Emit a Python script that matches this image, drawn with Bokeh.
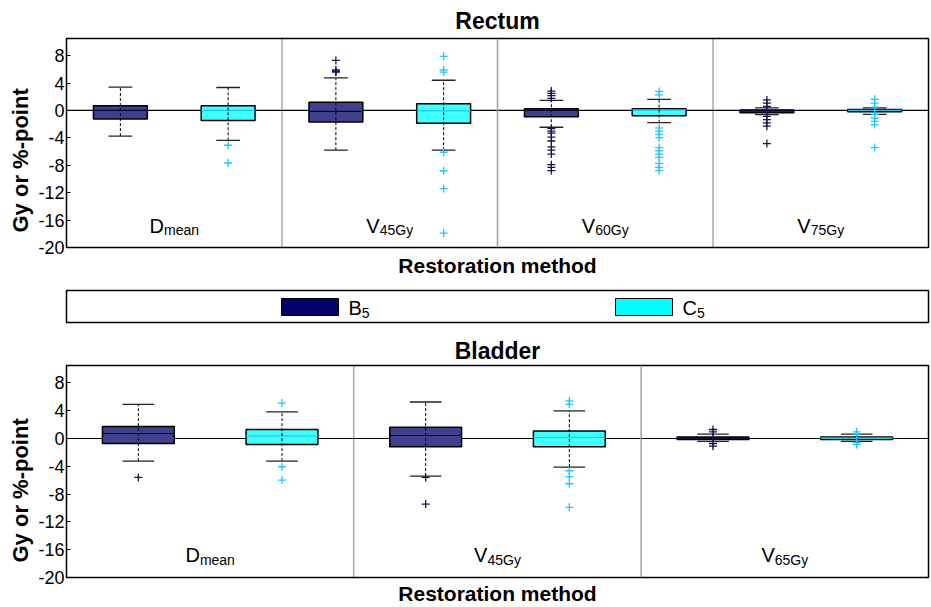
from bokeh.plotting import figure
from bokeh.models import Range1d, Span, Title, FixedTicker
from bokeh.layouts import column
from bokeh.core.properties import value
from bokeh.embed import file_html
from bokeh.resources import INLINE

# ---------------- data ----------------
ytick_values = [-20, -16, -12, -8, -4, 0, 4, 8]
ytick_labels = ["-20", "-16", "-12", "-8", "-4", "0", "4", "8"]
series_names = ["B", "C"]
series_subs = ["5", "5"]

rectum_label_main = ["D", "V", "V", "V"]
rectum_label_sub = ["mean", "45Gy", "60Gy", "75Gy"]
rectum_B_whislo = [-3.74, -5.8, -2.45, -0.62]
rectum_B_q1 = [-1.25, -1.68, -0.91, -0.33]
rectum_B_med = [0.0, -0.14, 0.0, -0.05]
rectum_B_q3 = [0.68, 1.2, 0.24, 0.05]
rectum_B_whishi = [3.4, 4.75, 1.48, 0.38]
rectum_B_outliers = [
    [],
    [7.3, 5.9, 5.7, 5.6],
    [2.83, 2.5, 2.16, 1.77, -2.64, -3.02, -3.31, -3.88, -4.46, -5.32, -5.8, -6.37, -7.91, -8.3, -8.78],
    [1.53, 1.06, 0.58, -0.86, -1.34, -1.82, -2.3, -4.84],
]
rectum_C_whislo = [-4.36, -5.8, -1.77, -0.58]
rectum_C_q1 = [-1.48, -1.87, -0.77, -0.19]
rectum_C_med = [0.0, -0.05, 0.04, 0.0]
rectum_C_q3 = [0.68, 0.96, 0.24, 0.14]
rectum_C_whishi = [3.35, 4.41, 1.63, 0.38]
rectum_C_outliers = [
    [-5.08, -7.67],
    [7.9, 5.9, 5.6, -6.1, -8.8, -11.4, -17.9],
    [2.78, 2.26, -2.54, -3.02, -3.5, -3.98, -5.42, -5.9, -6.37, -6.86, -7.72, -8.3, -8.78],
    [1.63, 1.06, 0.48, -0.62, -1.1, -1.58, -2.06, -5.42],
]

bladder_label_main = ["D", "V", "V"]
bladder_label_sub = ["mean", "45Gy", "65Gy"]
bladder_B_whislo = [-3.26, -5.41, -0.43]
bladder_B_q1 = [-0.72, -1.2, -0.14]
bladder_B_med = [0.72, 0.43, 0.05]
bladder_B_q3 = [1.72, 1.62, 0.23]
bladder_B_whishi = [4.92, 5.25, 0.62]
bladder_B_outliers = [[-5.6], [-5.6, -9.43], [1.29, 0.95, -0.72, -1.1]]
bladder_C_whislo = [-3.26, -4.12, -0.43]
bladder_C_q1 = [-0.86, -1.2, -0.14]
bladder_C_med = [0.38, 0.14, 0.05]
bladder_C_q3 = [1.29, 1.09, 0.23]
bladder_C_whishi = [3.82, 3.96, 0.62]
bladder_C_outliers = [[5.1, -4.07, -5.98], [5.4, 4.92, -4.64, -5.5, -6.51, -9.9], [0.95, 0.62, -0.57, -0.86]]

# ---------------- style ----------------
FONT = "Liberation Sans"
FILL = {"B": "#40408c", "C": "#40ffff"}
MEDIAN = {"B": "#000033", "C": "#22c8e8"}
OUTL = {"B": "#16164a", "C": "#1ec8ff"}
SWATCH = {"B": "#000066", "C": "#00ffff"}
OFFSET = {"B": -0.25, "C": 0.25}
BOXW = 0.25
CAPW = 0.11
FIG_W = 930
LEFT = 66
RIGHT = 2
FRAME_W = FIG_W - LEFT - RIGHT

W_ARIAL = {"D": 0.722, "V": 0.667, "B": 0.667, "C": 0.722, "m": 0.833, "e": 0.556,
           "a": 0.556, "n": 0.556, "G": 0.778, "y": 0.5}


def text_w(s, size):
    return sum(W_ARIAL.get(ch, 0.556) for ch in s) * size


def panel(title, mains, subs, stats, outliers, height, top, bottom, top_so, bot_so):
    n = len(mains)
    p = figure(width=FIG_W, height=height, x_range=Range1d(0.5, n + 0.5),
               y_range=Range1d(-20, 10.5), output_backend="svg", toolbar_location=None,
               min_border_left=LEFT, min_border_right=RIGHT, min_border_top=top,
               min_border_bottom=bottom)
    p.xaxis.visible = False
    p.xgrid.visible = False
    p.ygrid.visible = False
    p.outline_line_color = "black"
    p.outline_line_width = 1.5
    ax = p.yaxis[0]
    ax.ticker = FixedTicker(ticks=ytick_values)
    ax.major_label_overrides = {v: l for v, l in zip(ytick_values, ytick_labels)}
    ax.major_label_text_font = FONT
    ax.major_label_text_font_size = "18px"
    ax.major_label_text_color = "black"
    ax.major_label_standoff = 2
    ax.major_tick_in = 4
    ax.major_tick_out = 0
    ax.minor_tick_line_color = None
    ax.axis_line_color = "black"

    # y-axis title as a left-side title, starting a little above the frame bottom
    p.add_layout(Title(text="Gy or %-point", align="left", offset=15,
                       vertical_align="middle", standoff=4, text_font=FONT,
                       text_font_size="22px", text_font_style="bold",
                       text_color="black"), "left")

    p.title = Title(text=title, align="center", text_font=FONT, text_font_size="23px",
                    text_font_style="bold", text_color="black", standoff=top_so)
    p.add_layout(Title(text="Restoration method", align="center", text_font=FONT,
                       text_font_size="21px", text_font_style="bold", text_color="black",
                       standoff=bot_so), "below")

    # zero line and group separators
    p.add_layout(Span(location=0, dimension="width", line_color="black", line_width=1.2,
                      level="underlay"))
    for i in range(n - 1):
        if i % 2 == 0:
            p.add_layout(Span(location=i + 1.5, dimension="height", line_color="black",
                              line_width=1, line_dash="1 1"))
        else:
            p.add_layout(Span(location=i + 1.5, dimension="height", line_color="#a0a0a0",
                              line_width=1.5))

    groups = list(range(1, n + 1))
    for s in series_names:
        lo, q1, med, q3, hi = stats[s]
        xs = [g + OFFSET[s] for g in groups]
        p.vbar(x=xs, width=BOXW, bottom=q1, top=q3, fill_color=FILL[s],
               line_color="black", line_width=1.5)
        p.segment(x0=[x - BOXW / 2 for x in xs], x1=[x + BOXW / 2 for x in xs],
                  y0=med, y1=med, line_color=MEDIAN[s], line_width=1.2)
        p.segment(x0=xs, x1=xs, y0=lo, y1=hi, line_color="black", line_width=1,
                  line_dash="3 2")
        p.segment(x0=[x - CAPW / 2 for x in xs], x1=[x + CAPW / 2 for x in xs],
                  y0=hi, y1=hi, line_color="#222222", line_width=1.3)
        p.segment(x0=[x - CAPW / 2 for x in xs], x1=[x + CAPW / 2 for x in xs],
                  y0=lo, y1=lo, line_color="#222222", line_width=1.3)
        ox, oy = [], []
        for x, vals in zip(xs, outliers[s]):
            ox += [x] * len(vals)
            oy += vals
        p.scatter(x=ox, y=oy, marker="cross", size=8, line_color=OUTL[s], line_width=1.3)

    # category labels with subscripts
    main_size, sub_size = 20, 14
    for g, m, sb in zip(groups, mains, subs):
        wm = text_w(m, main_size)
        ws = text_w(sb, sub_size)
        start = -(wm + ws) / 2
        p.text(x=[g], y=[-16.8], text=[m], x_offset=start, text_align="left",
               text_baseline="alphabetic", text_font=value(FONT),
               text_font_size="20px", text_color="black")
        p.text(x=[g], y=[-17.5], text=[sb], x_offset=start + wm, text_align="left",
               text_baseline="alphabetic", text_font=value(FONT),
               text_font_size="14px", text_color="black")
    return p


top = panel("Rectum", rectum_label_main, rectum_label_sub,
            {"B": (rectum_B_whislo, rectum_B_q1, rectum_B_med, rectum_B_q3, rectum_B_whishi),
             "C": (rectum_C_whislo, rectum_C_q1, rectum_C_med, rectum_C_q3, rectum_C_whishi)},
            {"B": rectum_B_outliers, "C": rectum_C_outliers},
            height=281, top=36, bottom=33, top_so=10, bot_so=9)

bot = panel("Bladder", bladder_label_main, bladder_label_sub,
            {"B": (bladder_B_whislo, bladder_B_q1, bladder_B_med, bladder_B_q3, bladder_B_whishi),
             "C": (bladder_C_whislo, bladder_C_q1, bladder_C_med, bladder_C_q3, bladder_C_whishi)},
            {"B": bladder_B_outliers, "C": bladder_C_outliers},
            height=273, top=32, bottom=28, top_so=4, bot_so=4)

# legend strip
leg = figure(width=FIG_W, height=52, x_range=Range1d(0, FRAME_W), y_range=Range1d(0, 32),
             output_backend="svg", toolbar_location=None, min_border_left=LEFT,
             min_border_right=RIGHT, min_border_top=9, min_border_bottom=11)
leg.axis.visible = False
leg.grid.visible = False
leg.outline_line_color = "black"
leg.outline_line_width = 1.5
sw_left = [215, 549]
for s, sub, x0 in zip(series_names, series_subs, sw_left):
    leg.quad(left=[x0], right=[x0 + 57], bottom=[7], top=[24], fill_color=SWATCH[s],
             line_color="black", line_width=1)
    leg.text(x=[x0 + 67], y=[15], text=[s], text_font=value(FONT), text_font_size="20px",
             text_baseline="alphabetic", text_align="left", text_color="black")
    leg.text(x=[x0 + 67], y=[15], x_offset=text_w(s, 20), y_offset=5, text=[sub],
             text_font=value(FONT), text_font_size="14px",
             text_baseline="alphabetic", text_align="left", text_color="black")

layout = column(top, leg, bot, spacing=0)
open("out.html", "w").write(file_html(layout, INLINE))
